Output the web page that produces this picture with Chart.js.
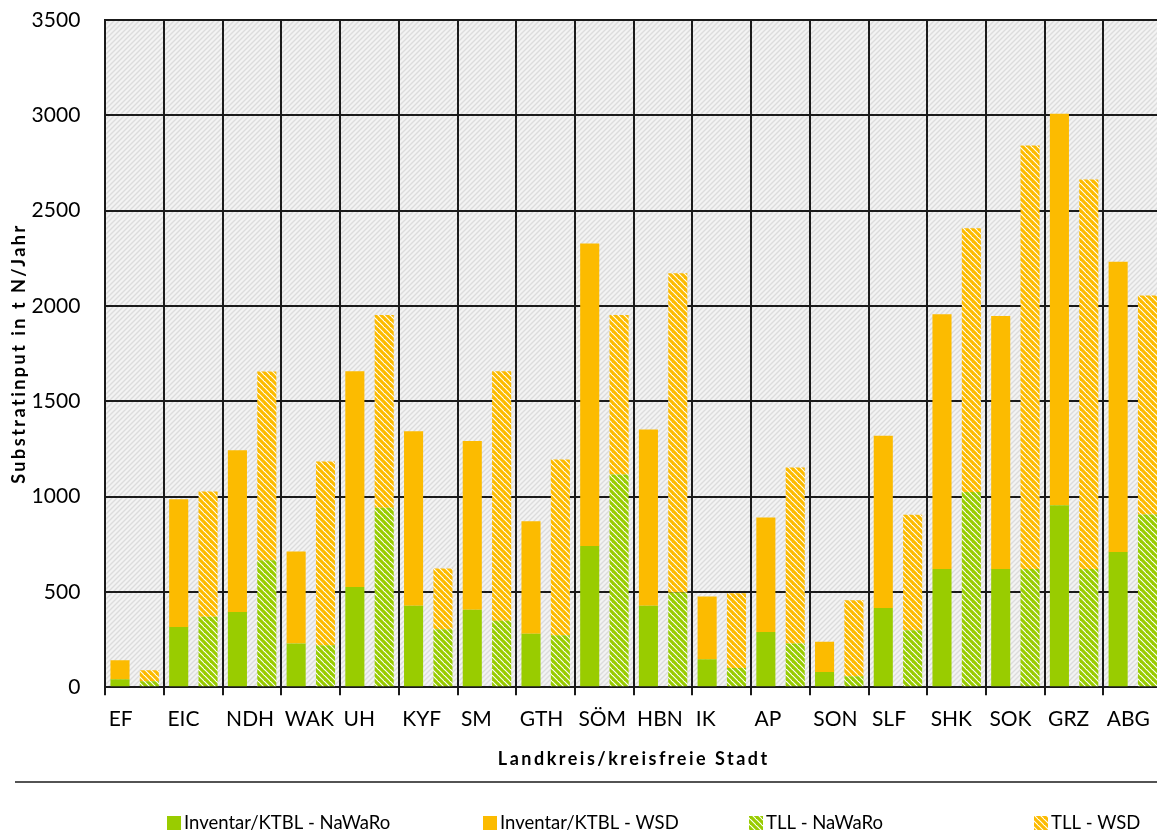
<!DOCTYPE html>
<html>
<head>
<meta charset="utf-8">
<script src="https://cdn.jsdelivr.net/npm/chart.js@4.4.1/dist/chart.umd.min.js"></script>
<style>
  html, body { margin: 0; padding: 0; background: #fff; overflow: hidden; }
  #wrap { width: 1187px; height: 835px; }
</style>
</head>
<body>
<div id="wrap"><canvas id="chart"></canvas></div>
<script>
const kreise = ['EF', 'EIC', 'NDH', 'WAK', 'UH', 'KYF', 'SM', 'GTH', 'SÖM',
  'HBN', 'IK', 'AP', 'SON', 'SLF', 'SHK', 'SOK', 'GRZ', 'ABG']

// Substratinput in t N/Jahr
const inventarNawaro = [42, 316, 395, 229, 525, 427, 406, 280, 741, 427, 147, 289, 80, 415, 620, 620, 955, 709]
const inventarWsd = [100, 670, 848, 483, 1133, 916, 886, 591, 1587, 925, 329, 601, 158, 904, 1337, 1327, 2053, 1523]
const tllNawaro = [31, 369, 666, 220, 941, 304, 348, 273, 1116, 497, 101, 229, 58, 299, 1024, 620, 620, 906]
const tllWsd = [58, 658, 990, 964, 1011, 319, 1310, 922, 836, 1674, 392, 924, 398, 606, 1383, 2221, 2043, 1149]

const yMin = 0
const yMax = 3500
const yStep = 500

const GREEN = '#99cc00'
const ORANGE = '#fcbb00'

// diagonal stripes, "\" for the bars and "/" for the plot background
function stripes (fg, bg, size, width, rising) {
  const c = document.createElement('canvas')
  c.width = size
  c.height = size
  const g = c.getContext('2d')
  g.fillStyle = bg
  g.fillRect(0, 0, size, size)
  g.strokeStyle = fg
  g.lineWidth = width
  g.lineCap = 'square'
  for (let k = -1; k <= 1; k++) {
    g.beginPath()
    if (rising) {
      g.moveTo(k * size, size)
      g.lineTo(k * size + size, 0)
    } else {
      g.moveTo(k * size, 0)
      g.lineTo(k * size + size, size)
    }
    g.stroke()
  }
  return g.createPattern(c, 'repeat')
}

// axis titles are set a little wider than the font does by itself
const drawTitle = Chart.Scale.prototype.drawTitle
Chart.Scale.prototype.drawTitle = function () {
  this.ctx.save()
  this.ctx.letterSpacing = '2.5px'
  drawTitle.call(this)
  this.ctx.restore()
}

const plotBackground = {
  id: 'plotBackground',
  beforeDraw (chart) {
    const { ctx, chartArea: a } = chart
    ctx.save()
    ctx.fillStyle = stripes('#dcdcdc', '#f3f3f3', 5, 1.4, true)
    ctx.fillRect(a.left, a.top, a.right - a.left, a.bottom - a.top)
    ctx.restore()
  }
}

// legend row under the separator line
const bottomLegend = {
  id: 'bottomLegend',
  afterDraw (chart) {
    const ctx = chart.ctx
    const starts = [167, 483, 749, 1034]
    const y = 823
    ctx.save()
    ctx.strokeStyle = '#1a1a1a'
    ctx.lineWidth = 1.5
    ctx.beginPath()
    ctx.moveTo(15, 782)
    ctx.lineTo(chart.width, 782)
    ctx.stroke()
    ctx.font = '18.5px Lato'
    ctx.textBaseline = 'middle'
    chart.data.datasets.forEach((ds, i) => {
      ctx.fillStyle = ds.backgroundColor
      ctx.fillRect(starts[i], y - 7, 14, 14)
      ctx.fillStyle = '#000'
      ctx.fillText(ds.label, starts[i] + 17, y)
    })
    ctx.restore()
  }
}

Chart.defaults.font.family = 'Lato'
Chart.defaults.color = '#000'

const chart = new Chart(document.getElementById('chart'), {
  type: 'bar',
  data: {
    labels: kreise,
    datasets: [
      { label: 'Inventar/KTBL - NaWaRo', data: inventarNawaro, backgroundColor: GREEN, stack: 'inventar' },
      { label: 'Inventar/KTBL - WSD', data: inventarWsd, backgroundColor: ORANGE, stack: 'inventar' },
      { label: 'TLL - NaWaRo', data: tllNawaro, backgroundColor: stripes(GREEN, '#ffffff', 6, 3.2, false), stack: 'tll' },
      { label: 'TLL - WSD', data: tllWsd, backgroundColor: stripes(ORANGE, '#ffffff', 6, 3.2, false), stack: 'tll' }
    ]
  },
  options: {
    responsive: true,
    maintainAspectRatio: false,
    animation: false,
    categoryPercentage: 1.0,
    barPercentage: 0.65,
    layout: { padding: { top: 20, left: 8, right: 2, bottom: 65 } },
    plugins: {
      legend: { display: false },
      tooltip: { enabled: false }
    },
    scales: {
      x: {
        stacked: true,
        grid: { color: '#1a1a1a', lineWidth: 2, tickLength: 8, offset: true },
        border: { color: '#1a1a1a', width: 2 },
        ticks: { font: { size: 21 }, align: 'start', labelOffset: -26, padding: 11, maxRotation: 0, autoSkip: false },
        title: { display: true, text: 'Landkreis/kreisfreie Stadt', font: { size: 18, weight: 'bold' }, padding: { top: 6, bottom: 0 } }
      },
      y: {
        stacked: true,
        min: yMin,
        max: yMax,
        ticks: { stepSize: yStep, font: { size: 21 }, padding: 0, callback: v => String(v) },
        // invisible tick marks keep the labels clear of the axis
        grid: { color: '#1a1a1a', lineWidth: 2, drawTicks: true, tickLength: 25, tickColor: 'transparent' },
        border: { color: '#1a1a1a', width: 2 },
        title: { display: true, text: 'Substratinput in t N/Jahr', font: { size: 18, weight: 'bold' }, padding: { top: 0, bottom: 2 } }
      }
    }
  },
  plugins: [plotBackground, bottomLegend]
})
</script>
</body>
</html>
